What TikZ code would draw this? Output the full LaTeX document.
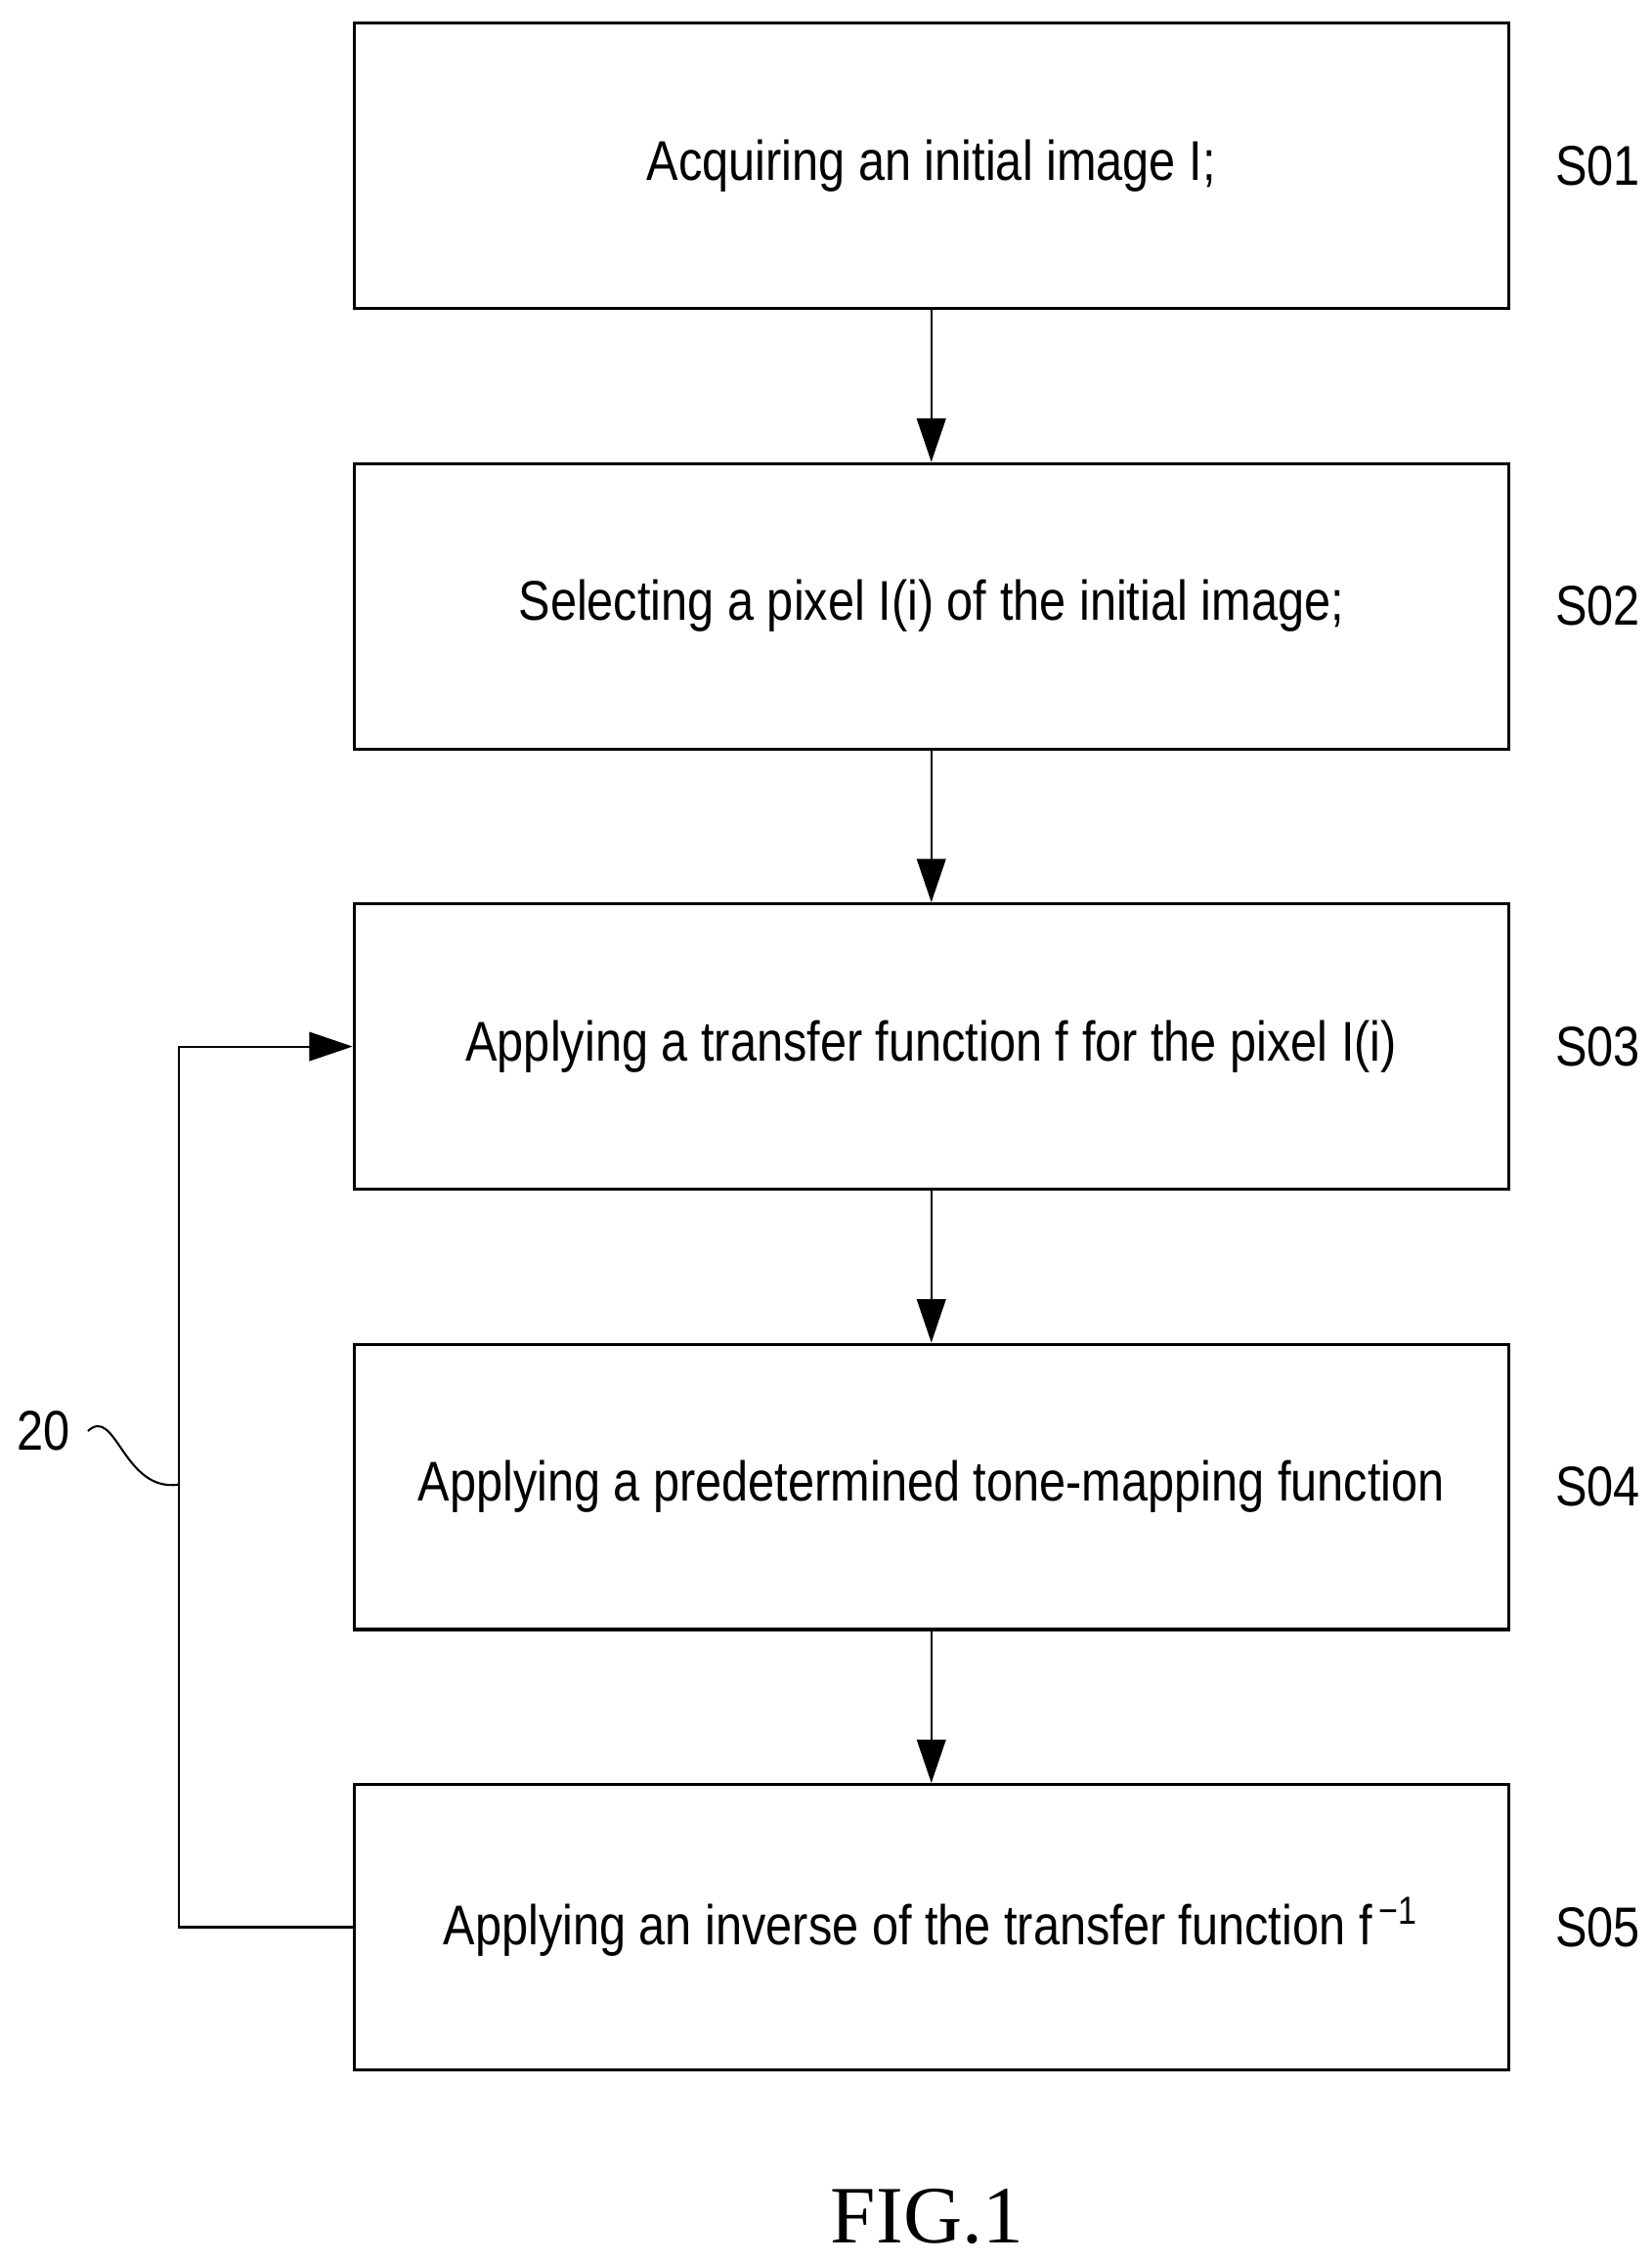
\documentclass[tikz,border=0pt]{standalone}
\usepackage{fontspec}
\setmainfont{Liberation Sans}[FakeStretch=0.85]
\newfontfamily\capfont{Liberation Serif}
\usetikzlibrary{arrows.meta,positioning}
\tikzset{stp/.style={draw, semithick, minimum width=7.97cm, minimum height=1.97cm,
  font=\fontsize{11}{13}\selectfont}}
\tikzset{lbl/.style={font=\fontsize{11}{13}\selectfont}}
\tikzset{ar/.style={draw, -{Triangle[length=3mm,width=2mm]}}}
\begin{document}
\begin{tikzpicture}
  \useasboundingbox (0,0) rectangle (11.4,-15.61);
  %%
  \node (s1) at (6.43,-1.145) [stp] {Acquiring an initial image I;};
  \node (s2) at (6.43,-4.185) [stp] {Selecting a pixel I(i) of the initial image;};
  \node (s3) at (6.43,-7.225) [stp] {Applying a transfer function f for the pixel I(i)};
  \node (s4) at (6.43,-10.265) [stp] {Applying a predetermined tone-mapping function};
  \node (s5) at (6.43,-13.305) [stp] {Applying an inverse of the transfer function f\textsuperscript{\,−1}};
  %%
  \node (l1) at (11.03,-1.145) [lbl] {S01};
  \node (l2) at (11.03,-4.185) [lbl] {S02};
  \node (l3) at (11.03,-7.225) [lbl] {S03};
  \node (l4) at (11.03,-10.265) [lbl] {S04};
  \node (l5) at (11.03,-13.305) [lbl] {S05};
  %%
  \path[ar] (s1) to (s2);
  \path[ar] (s2) to (s3);
  \path[ar] (s3) to (s4);
  \path[ar] (s4) to (s5);
  \path[ar] (s5.west) -- ++(-1.2,0) |- (s3.west);
  %%
  \node (n20) at (0.3,-9.88) [lbl] {20};
  \coordinate (c20) at (1.23,-10.25);
  \draw (n20.east) .. controls (0.8,-9.7) and (0.85,-10.3) .. (c20);
  \node (fig) at (6.4,-15.3) {\capfont\fontsize{16}{19}\selectfont FIG.1};
\end{tikzpicture}
\end{document}
